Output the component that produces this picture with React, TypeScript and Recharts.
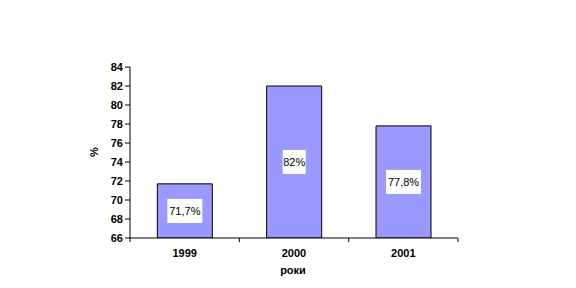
import React from 'react';
import { BarChart, Bar, XAxis, YAxis, LabelList } from 'recharts';

const years = ['1999', '2000', '2001'];
const values = [71.7, 82, 77.8];
const valueLabels = ['71,7%', '82%', '77,8%'];
const yTicks = [66, 68, 70, 72, 74, 76, 78, 80, 82, 84];

const data = years.map((y, i) => ({ year: y, value: values[i], label: valueLabels[i] }));

const W = 576;
const H = 288;
const PLOT_LEFT = 130;
const PLOT_RIGHT = 458;
const PLOT_TOP = 67;
const PLOT_BOTTOM = 238;
const BAND = (PLOT_RIGHT - PLOT_LEFT) / years.length;
const FONT = 'Liberation Sans, Arial, sans-serif';

const XTick = (props: any) => {
  const { x, payload, index } = props;
  const cx = payload && typeof payload.coordinate === 'number' ? payload.coordinate : x;
  const half = BAND / 2;
  return (
    <g>
      <text x={cx} y={PLOT_BOTTOM + 19} textAnchor="middle" fontFamily={FONT} fontSize={11} fontWeight="bold" fill="#000">
        {payload.value}
      </text>
      <line x1={cx + half} x2={cx + half} y1={PLOT_BOTTOM} y2={PLOT_BOTTOM + 4} stroke="#000" />
      {index === 0 && <line x1={cx - half} x2={cx - half} y1={PLOT_BOTTOM} y2={PLOT_BOTTOM + 4} stroke="#000" />}
    </g>
  );
};

const BarLabel = (props: any) => {
  const { x, y, width, height, index } = props;
  const cx = x + width / 2;
  const cy = y + height / 2;
  const text = valueLabels[index];
  const bw = text.length > 3 ? 35 : 23;
  return (
    <g>
      <rect x={cx - bw / 2} y={cy - 12} width={bw} height={24} fill="#fff" />
      <text x={cx} y={cy + 4} textAnchor="middle" fontFamily={FONT} fontSize={11} fill="#000">
        {text}
      </text>
    </g>
  );
};

export default function App() {
  return (
    <div style={{ position: 'absolute', left: 0, top: 0, width: W, height: H, background: '#fff' }}>
      <BarChart
        width={W}
        height={H}
        data={data}
        margin={{ left: PLOT_LEFT - 60, right: W - PLOT_RIGHT, top: PLOT_TOP, bottom: H - PLOT_BOTTOM - 30 }}
        barCategoryGap="25%"
      >
        <XAxis
          dataKey="year"
          height={30}
          axisLine={{ stroke: '#000' }}
          tickLine={false}
          tick={<XTick />}
          interval={0}
        />
        <YAxis
          width={60}
          domain={[66, 84]}
          ticks={yTicks}
          allowDataOverflow
          axisLine={{ stroke: '#000' }}
          tickLine={{ stroke: '#000' }}
          tickSize={5}
          tick={{ fontFamily: FONT, fontSize: 11, fontWeight: 'bold', fill: '#000' }}
        />
        <Bar dataKey="value" fill="#9999FF" stroke="#000" strokeWidth={1} isAnimationActive={false}>
          <LabelList dataKey="label" content={<BarLabel />} />
        </Bar>
        <text x={98} y={152} transform="rotate(-90 98 152)" textAnchor="middle" fontFamily={FONT} fontSize={11} fontWeight="bold" fill="#000">
          %
        </text>
        <text x={293} y={274} textAnchor="middle" fontFamily={FONT} fontSize={11} fontWeight="bold" fill="#000">
          роки
        </text>
      </BarChart>
    </div>
  );
}
